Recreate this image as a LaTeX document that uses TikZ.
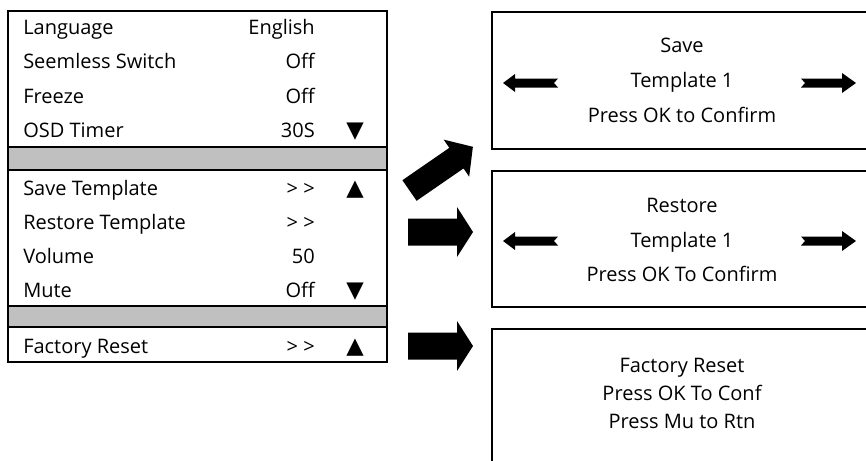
\documentclass[tikz,border=0pt]{standalone}
\usepackage{fontspec}
\setmainfont{Open Sans}
\newfontfamily\symfont{DejaVu Sans}

\tikzset{
  frame/.style={draw=black, line width=1.5pt},
  band/.style={fill=bandgray, draw=black, line width=1.5pt},
  itemtext/.style={anchor=base west, inner sep=0pt, font=\fontsize{15}{18}\selectfont},
  valtext/.style={anchor=base east, inner sep=0pt, font=\fontsize{15}{18}\selectfont},
  scrollmark/.style={anchor=base, inner sep=0pt, font=\symfont\fontsize{17}{20}\selectfont},
  msgtext/.style={anchor=base, inner sep=0pt, font=\fontsize{15}{18}\selectfont},
  bigarrow/.style={fill=black},
  navarrow/.style={fill=black}
}
\definecolor{bandgray}{HTML}{C0C0C0}

\begin{document}
\begin{tikzpicture}[x=0.75pt,y=-0.75pt]
\clip (0,0) rectangle (866,460);

% ---- menu panel ----
\draw[band] (8,147) rectangle (387,170);
\draw[band] (8,306) rectangle (387,327);
\draw[frame] (8,11) rectangle (387,362);

\node[itemtext] (lang)   at (23,35)  {Language};
\node[itemtext] (seam)   at (23,69)  {Seemless Switch};
\node[itemtext] (frz)    at (23,103) {Freeze};
\node[itemtext] (osd)    at (23,137) {OSD Timer};
\node[itemtext] (save)   at (23,195) {Save Template};
\node[itemtext] (rest)   at (23,229) {Restore Template};
\node[itemtext] (vol)    at (23,263) {Volume};
\node[itemtext] (mute)   at (23,297) {Mute};
\node[itemtext] (fact)   at (23,353) {Factory Reset};

\node[valtext] (langv) at (315,35)  {English};
\node[valtext] (seamv) at (315,69)  {Off};
\node[valtext] (frzv)  at (315,103) {Off};
\node[valtext] (osdv)  at (315,137) {30S};
\node[valtext] (savev) at (315,195) {> >};
\node[valtext] (restv) at (315,229) {> >};
\node[valtext] (volv)  at (315,263) {50};
\node[valtext] (mutev) at (315,297) {Off};
\node[valtext] (factv) at (315,353) {> >};

\node[scrollmark] (osdm)  at (355,137) {▼};
\node[scrollmark] (savem) at (355,195) {▲};
\node[scrollmark] (mutem) at (355,297) {▼};
\node[scrollmark] (factm) at (355,353) {▲};

% ---- big pointer arrows ----
\begin{scope}[shift={(409.5,190.5)}, rotate=34.6]
  \fill[bigarrow] (0,-12.5) -- (57,-12.5) -- (57,-22.5) -- (77,0)
    -- (57,22.5) -- (57,12.5) -- (0,12.5) -- cycle;
\end{scope}
\fill[bigarrow] (408,218.5) -- (457,218.5) -- (457,207) -- (473,232)
  -- (457,257) -- (457,245.5) -- (408,245.5) -- cycle;
\fill[bigarrow] (408,332.5) -- (457,332.5) -- (457,321) -- (473,346)
  -- (457,371) -- (457,359.5) -- (408,359.5) -- cycle;

% ---- message boxes ----
\draw[frame] (492,12) rectangle (880,149);
\draw[frame] (492,171) rectangle (880,307);
\draw[frame] (492,329) rectangle (880,470);

\node[msgtext] (s1) at (682,53)  {Save};
\node[msgtext] (s2) at (682,87)  {Template 1};
\node[msgtext] (s3) at (682,122) {Press OK to Confirm};

\node[msgtext] (r1) at (682,212) {Restore};
\node[msgtext] (r2) at (682,247) {Template 1};
\node[msgtext] (r3) at (682,281) {Press OK To Confirm};

\node[msgtext] (f1) at (682,372) {Factory Reset};
\node[msgtext] (f2) at (682,400) {Press OK To Conf};
\node[msgtext] (f3) at (682,428) {Press Mu to Rtn};

% ---- left / right navigation arrows ----
\foreach \yy in {83,241} {
  \fill[navarrow] (503,\yy) -- (515,\yy-9) -- (515,\yy-4.5) -- (558,\yy-4.5)
    -- (554,\yy) -- (558,\yy+4.5) -- (515,\yy+4.5) -- (515,\yy+9) -- cycle;
  \fill[navarrow] (856,\yy) -- (842,\yy-10) -- (842,\yy-4.5) -- (801,\yy-4.5)
    -- (805,\yy) -- (801,\yy+4.5) -- (842,\yy+4.5) -- (842,\yy+10) -- cycle;
}
\end{tikzpicture}
\end{document}
